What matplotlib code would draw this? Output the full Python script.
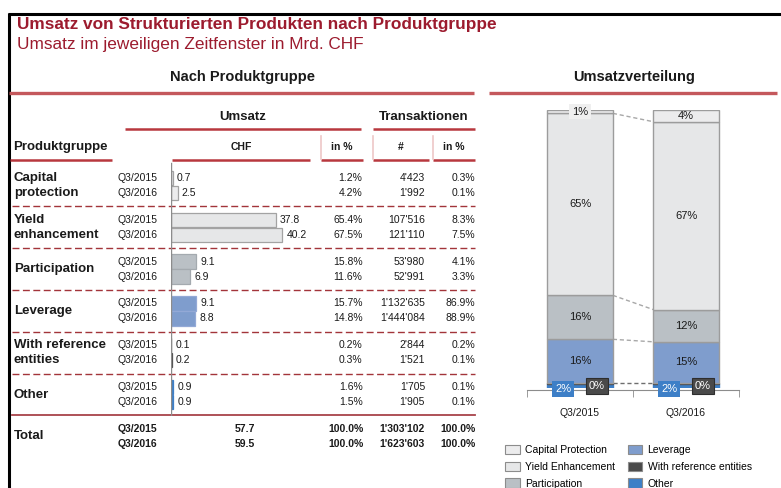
import matplotlib
matplotlib.use("Agg")
import matplotlib.pyplot as plt
from matplotlib.patches import Patch

plt.rcParams["font.family"] = ["Liberation Sans", "DejaVu Sans"]

W, H = 781, 488

# ---------------------------------------------------------------------------
# data
# ---------------------------------------------------------------------------
groups = ["Capital\nprotection", "Yield\nenhancement", "Participation",
          "Leverage", "With reference\nentities", "Other"]
periods = ["Q3/2015", "Q3/2016"]
chf_2015 = [0.7, 37.8, 9.1, 9.1, 0.1, 0.9]
chf_2016 = [2.5, 40.2, 6.9, 8.8, 0.2, 0.9]
pct_2015 = [1.2, 65.4, 15.8, 15.7, 0.2, 1.6]
pct_2016 = [4.2, 67.5, 11.6, 14.8, 0.3, 1.5]
trx_2015 = [4423, 107516, 53980, 1132635, 2844, 1705]
trx_2016 = [1992, 121110, 52991, 1444084, 1521, 1905]
trxpct_2015 = [0.3, 8.3, 4.1, 86.9, 0.2, 0.1]
trxpct_2016 = [0.1, 7.5, 3.3, 88.9, 0.1, 0.1]
total_chf = [57.7, 59.5]
total_pct = [100.0, 100.0]
total_trx = [1303102, 1623603]
total_trxpct = [100.0, 100.0]

legend_names = ["Capital Protection", "Yield Enhancement", "Participation",
                "Leverage", "With reference entities", "Other"]
stack_lbl_2015 = ["1%", "65%", "16%", "16%", "0%", "2%"]
stack_lbl_2016 = ["4%", "67%", "12%", "15%", "0%", "2%"]

# colours per product group
face = ["#ECECED", "#E6E7E8", "#BAC0C5", "#7F9DCD", "#4A4A4A", "#3D7FC7"]
edge = ["#A3A3A3", "#A3A3A3", "#A4AAAF", "#93A9D6", "#4A4A4A", "#3D7FC7"]

RED = "#9C1B2E"
HLINE = "#B8383E"
DASH = "#A3343A"
TXT = "#1A1A1A"


def swiss(n):
    return f"{n:,}".replace(",", "'")


fig = plt.figure(figsize=(W / 100, H / 100), dpi=100)
ax = fig.add_axes([0, 0, 1, 1])
ax.set_xlim(0, W)
ax.set_ylim(H, 0)
ax.axis("off")


def px_axes(x0, y0, x1, y1):
    return fig.add_axes([x0 / W, 1 - y1 / H, (x1 - x0) / W, (y1 - y0) / H])


# frame + titles
ax.plot([9, 9], [13, H], color="black", lw=2.2, solid_capstyle="butt")
ax.plot([8, W], [13.5, 13.5], color="black", lw=2.2, solid_capstyle="butt")
ax.text(17, 28.5, "Umsatz von Strukturierten Produkten nach Produktgruppe",
        color=RED, fontsize=12.4, fontweight="bold", va="baseline")
ax.text(17, 48.5, "Umsatz im jeweiligen Zeitfenster in Mrd. CHF",
        color=RED, fontsize=12.4, va="baseline")

ax.text(243, 81.5, "Nach Produktgruppe", fontsize=10.5, fontweight="bold",
        ha="center", va="baseline", color=TXT)
ax.text(634, 81.5, "Umsatzverteilung", fontsize=10.5, fontweight="bold",
        ha="center", va="baseline", color=TXT)
ax.plot([9, 474], [93, 93], color="#C4585C", lw=2.4, solid_capstyle="butt")
ax.plot([489, 777], [93, 93], color="#C4585C", lw=2.4, solid_capstyle="butt")

# table headers
ax.text(243, 119.5, "Umsatz", fontsize=9.5, fontweight="bold", ha="center",
        va="baseline", color=TXT)
ax.text(424, 119.5, "Transaktionen", fontsize=9.5, fontweight="bold",
        ha="center", va="baseline", color=TXT)
ax.text(13, 150, "Produktgruppe", fontsize=9.5, fontweight="bold",
        va="baseline", color=TXT)
sub_heads = [("CHF", 241), ("in %", 342), ("#", 401), ("in %", 454)]
for s, xc in sub_heads:
    ax.text(xc, 150, s, fontsize=7.5, fontweight="bold", ha="center",
            va="baseline", color=TXT)

for x0, x1, y in [(125, 361, 128.5), (373, 475, 128.5), (10, 112, 160),
                  (172, 310, 160), (321, 363, 160), (373, 429, 160),
                  (433, 475, 160)]:
    ax.plot([x0, x1], [y, y], color=HLINE, lw=1.8, solid_capstyle="butt")
for x in [321, 373, 433]:
    ax.plot([x, x], [136, 159], color="#EDC7C7", lw=1.2)

# table rows
ROW0, GSTEP, SUB = 178, 41.8, 15
XQ, XPCT, XTRX, XTPCT = 118, 362.5, 425, 475
FS = 7.5

bar_y, bar_v, bar_c, bar_e = [], [], [], []
for g, name in enumerate(groups):
    y0 = ROW0 + g * GSTEP
    rows = [(chf_2015[g], pct_2015[g], trx_2015[g], trxpct_2015[g]),
            (chf_2016[g], pct_2016[g], trx_2016[g], trxpct_2016[g])]
    lines = name.split("\n")
    if len(lines) == 2:
        for k, ln in enumerate(lines):
            ax.text(14, y0 + k * SUB, ln, fontsize=9.5, fontweight="bold",
                    va="center", color=TXT)
    else:
        ax.text(14, y0 + SUB / 2, name, fontsize=9.5, fontweight="bold",
                va="center", color=TXT)
    for k, (c, p, t, tp) in enumerate(rows):
        y = y0 + k * SUB
        ax.text(XQ, y, periods[k], fontsize=FS, va="center", color=TXT)
        ax.text(XPCT, y, f"{p:.1f}%", fontsize=FS, va="center", ha="right",
                color=TXT)
        ax.text(XTRX, y, swiss(t), fontsize=FS, va="center", ha="right",
                color=TXT)
        ax.text(XTPCT, y, f"{tp:.1f}%", fontsize=FS, va="center", ha="right",
                color=TXT)
        bar_y.append(y)
        bar_v.append(c)
        bar_c.append(face[g])
        bar_e.append(edge[g])
    if g < len(groups) - 1:
        ys = y0 + SUB + (GSTEP - SUB) / 2
        ax.plot([12, 475], [ys, ys], color=DASH, lw=1, ls=(0, (5, 2.5)))

ys = ROW0 + (len(groups) - 1) * GSTEP + SUB + (GSTEP - SUB) / 2
ax.plot([12, 475], [ys, ys], color="#A8434A", lw=1.3)

# total
yt = ROW0 + len(groups) * GSTEP
ax.text(14, yt + SUB / 2, "Total", fontsize=9.5, fontweight="bold",
        va="center", color=TXT)
for k in range(2):
    y = yt + k * SUB
    ax.text(XQ, y, periods[k], fontsize=FS, fontweight="bold", va="center",
            color=TXT)
    ax.text(255, y, f"{total_chf[k]:.1f}", fontsize=FS, fontweight="bold",
            va="center", ha="right", color=TXT)
    ax.text(XPCT + 1, y, f"{total_pct[k]:.1f}%", fontsize=FS,
            fontweight="bold", va="center", ha="right", color=TXT)
    ax.text(XTRX, y, swiss(total_trx[k]), fontsize=FS, fontweight="bold",
            va="center", ha="right", color=TXT)
    ax.text(XTPCT + 1, y, f"{total_trxpct[k]:.1f}%", fontsize=FS,
            fontweight="bold", va="center", ha="right", color=TXT)

# CHF bars
axb = px_axes(171, 160, 371, 416)
axb.set_ylim(416, 160)
axb.set_xlim(0, 200 / 2.77)
axb.axis("off")
axb.barh(bar_y, bar_v, height=14.5, color=bar_c, edgecolor=bar_e, lw=0.9)
for y, v in zip(bar_y, bar_v):
    axb.annotate(f"{v:.1f}", (v, y), xytext=(4, 0), textcoords="offset pixels",
                 fontsize=FS, va="center", ha="left", color=TXT)
axb.axvline(0, ymin=0, ymax=(416 - 163) / 256, color="#8C8C8C", lw=1)

# stacked distribution
SFS = 8
axs = px_axes(527, 110, 739, 388)
order = [5, 4, 3, 2, 1, 0]  # bottom -> top
axs.set_xlim(-0.5, 1.5)
axs.set_ylim(0, max(sum(pct_2015), sum(pct_2016)))
bw = 0.62
tops = []
for i, (pcts, lbls) in enumerate([(pct_2015, stack_lbl_2015),
                                  (pct_2016, stack_lbl_2016)]):
    bottom = 0
    t = {}
    for j in order:
        axs.bar(i, pcts[j], bw, bottom=bottom, color=face[j],
                edgecolor="#9C9C9C" if j < 4 else face[j], lw=1, zorder=2)
        mid = bottom + pcts[j] / 2
        if j == 0:
            axs.text(i, mid, lbls[j], fontsize=SFS, ha="center", va="center",
                     color=TXT, zorder=4,
                     bbox=dict(boxstyle="square,pad=0.25", fc="#EFEFEF",
                               ec="none") if i == 0 else None)
        elif j in (1, 2, 3):
            axs.text(i, mid, lbls[j], fontsize=SFS, ha="center", va="center",
                     color=TXT, zorder=4)
        bottom += pcts[j]
        t[j] = bottom
    tops.append(t)
    axs.annotate(lbls[5], (i, 0), xytext=(-17, -1), textcoords="offset pixels",
                 fontsize=SFS, ha="center", va="center", color="white",
                 zorder=5, bbox=dict(boxstyle="square,pad=0.3", fc=face[5],
                                     ec="none"))
    axs.annotate(lbls[4], (i, 0), xytext=(17, 2), textcoords="offset pixels",
                 fontsize=SFS, ha="center", va="center", color="white",
                 zorder=5, bbox=dict(boxstyle="square,pad=0.3", fc=face[4],
                                     ec="#2E2E2E", lw=0.8))

for j, col in [(1, "#A8A8A8"), (2, "#A8A8A8"), (3, "#A8A8A8"),
               (4, "#6E6E6E")]:
    axs.plot([bw / 2, 1 - bw / 2], [tops[0][j], tops[1][j]], color=col,
             lw=1, ls=(0, (3, 2)), zorder=1)

for s in ["top", "right", "left"]:
    axs.spines[s].set_visible(False)
axs.spines["bottom"].set_color("#8C8C8C")
axs.spines["bottom"].set_position(("outward", 1.5))
axs.set_yticks([])
axs.set_xticks([0, 1])
axs.set_xticklabels(periods, fontsize=FS, color=TXT)
axs.tick_params(axis="x", length=0, pad=13)
axs.set_xticks([-0.5, 0.5, 1.5], minor=True)
axs.tick_params(axis="x", which="minor", length=5, color="#8C8C8C",
                direction="out")

handles = [Patch(facecolor=face[j], edgecolor="#8C8C8C", lw=0.8)
           for j in range(6)]
fig.legend(handles, legend_names, loc="upper left",
           bbox_to_anchor=(505 / W, 1 - 445 / H), ncol=2, frameon=False,
           fontsize=FS, handlelength=1.4, handleheight=1.0,
           handletextpad=0.5, labelspacing=0.62, columnspacing=1.25,
           borderpad=0, borderaxespad=0)

fig.savefig("out.png", dpi=100)
